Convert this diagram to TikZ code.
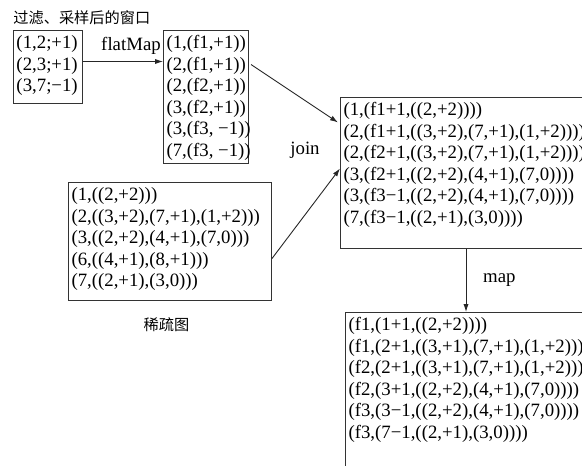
\documentclass[tikz,border=0pt]{standalone}
\usepackage{fontspec}
\setmainfont{Liberation Serif}
\newfontfamily\cjk{Noto Sans CJK SC}
\usetikzlibrary{positioning, arrows.meta}

\newcommand{\rowbox}[3]{\parbox[t][#2][t]{#1}{\begin{tabular}[t]{@{}l@{}}#3\end{tabular}}}

\begin{document}
\begin{tikzpicture}[x=0.5pt, y=-0.5pt,
font=\fontsize{9.4pt}{10.75pt}\selectfont,
box/.style={draw=black!80, line width=0.5pt, anchor=north west, inner sep=1.5pt},
arr/.style={draw=black!85, line width=0.45pt, -{Latex[length=4pt,width=2.6pt]}},
zh/.style={font=\cjk\fontsize{7.6pt}{9pt}\selectfont}]

\useasboundingbox (0,0) rectangle (582,465);
\clip (0,0) rectangle (582,465);

\node[box] (win) at (13,30) {\rowbox{31.5pt}{33.5pt}{(1,2;+1)\\(2,3;+1)\\(3,7;−1)}};
\node[zh, anchor=south west, inner sep=0pt] (title) at ([yshift=2.5pt]win.north west) {过滤、采样后的窗口};
\node[box] (fm) at (163,30) {\rowbox{39.5pt}{63.5pt}{(1,(f1,+1))\\(2,(f1,+1))\\(2,(f2,+1))\\(3,(f2,+1))\\(3,(f3, −1))\\(7,(f3, −1))}};
\node[box] (jn) at (340,97) {\rowbox{127pt}{72.5pt}{(1,(f1+1,((2,+2))))\\(2,(f1+1,((3,+2),(7,+1),(1,+2))))\\(2,(f2+1,((3,+2),(7,+1),(1,+2))))\\(3,(f2+1,((2,+2),(4,+1),(7,0))))\\(3,(f3−1,((2,+2),(4,+1),(7,0))))\\(7,(f3−1,((2,+1),(3,0))))}};
\node[box] (sp) at (68,182) {\rowbox{98.5pt}{56pt}{(1,((2,+2)))\\(2,((3,+2),(7,+1),(1,+2)))\\(3,((2,+2),(4,+1),(7,0)))\\(6,((4,+1),(8,+1)))\\(7,((2,+1),(3,0)))}};
\node[zh, below=5pt of sp, xshift=-1.75pt] (splabel) {稀疏图};
\node[box] (mp) at (345,312) {\rowbox{127pt}{85pt}{(f1,(1+1,((2,+2))))\\(f1,(2+1,((3,+1),(7,+1),(1,+2))))\\(f2,(2+1,((3,+1),(7,+1),(1,+2))))\\(f2,(3+1,((2,+2),(4,+1),(7,0))))\\(f3,(3−1,((2,+2),(4,+1),(7,0))))\\(f3,(7−1,((2,+1),(3,0))))}};
\node (joinlabel) at (305,150) {join};

% connectors
\draw[arr] ([yshift=2.75pt]win.east) -- ([yshift=2.75pt]win.east -| fm.west) node[pos=0.6, above] {flatMap};
\draw[arr] ([shift={(1pt,16.25pt)}]fm.east) -- ([shift={(-1pt,25.25pt)}]jn.west);
\draw[arr] ([yshift=-8.5pt]sp.east) -- ([yshift=2.25pt]jn.west);
\draw[arr] ([xshift=63pt]jn.south west) -- ([xshift=63pt]jn.south west |- mp.north) node[midway, right=5pt] {map};
\end{tikzpicture}
\end{document}
